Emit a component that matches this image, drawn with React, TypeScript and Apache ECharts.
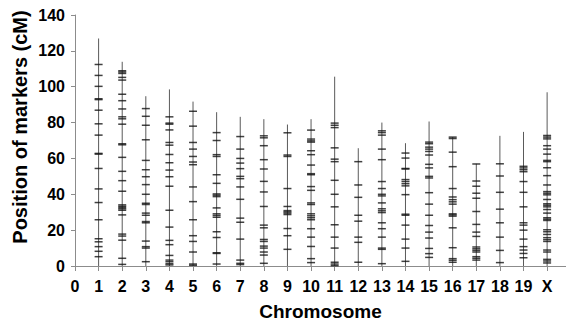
import React, { useEffect, useRef } from "react";
import * as echarts from "echarts";

// Chromosome labels (x positions 0..20)
const categories = ["0", "1", "2", "3", "4", "5", "6", "7", "8", "9", "10", "11", "12", "13", "14", "15", "16", "17", "18", "19", "X"];

// Length of each chromosome (cM), index = x position
const chromLengths = [0, 126.9, 113.9, 94.7, 98.5, 91.7, 85.8, 83.2, 81.9, 78.9, 81.9, 105.6, 65.7, 80.0, 68.5, 80.6, 71.9, 57.0, 72.6, 74.8, 96.9];

// Marker positions (cM) per chromosome
const chr1 = [112.4, 106.3, 100.2, 93.3, 92.8, 86.9, 79.3, 73.0, 62.8, 62.4, 54.4, 43.0, 35.4, 25.8, 15.2, 13.5, 10.8, 8.2, 5.2];
const chr2 = [108.9, 108.2, 107.4, 105.2, 103.7, 95.8, 92.2, 87.6, 83.2, 82.1, 79.1, 68.2, 67.6, 60.6, 52.8, 47.6, 41.7, 34.1, 33.3, 32.6, 31.9, 31.1, 28.5, 17.8, 16.7, 14.4, 4.3, 0.9];
const chr3 = [87.8, 83.5, 78.5, 70.4, 58.9, 53.7, 49.8, 45.4, 40.0, 35.0, 34.3, 29.5, 28.3, 24.8, 24.1, 13.9, 10.8, 10.0, 2.4];
const chr4 = [83.2, 79.7, 79.1, 75.9, 68.9, 67.4, 62.2, 57.6, 53.5, 49.8, 44.5, 31.1, 21.7, 14.3, 11.9, 5.9, 3.3, 2.4, 1.3, 0.6];
const chr5 = [86.3, 78.0, 68.9, 65.2, 61.1, 58.0, 56.5, 44.1, 35.9, 25.8, 16.9, 13.7, 7.8, 1.1, 0.4];
const chr6 = [74.4, 70.0, 62.1, 61.1, 50.9, 46.1, 40.2, 39.5, 38.7, 32.4, 29.1, 28.2, 27.2, 19.1, 15.9, 7.4, 7.0, 1.1];
const chr7 = [72.2, 65.2, 60.0, 57.4, 54.3, 50.0, 48.7, 44.1, 37.2, 26.7, 24.4, 15.0, 3.3, 1.5, 0.8];
const chr8 = [72.6, 71.5, 67.1, 59.3, 54.1, 47.2, 41.3, 33.2, 22.8, 21.3, 14.8, 13.7, 11.1, 10.0, 7.8, 6.1, 1.5];
const chr9 = [74.3, 61.9, 61.1, 43.2, 33.2, 30.9, 30.2, 29.5, 28.7, 20.9, 16.9, 9.3];
const chr10 = [75.8, 70.8, 69.8, 69.1, 64.3, 62.1, 56.3, 51.5, 50.9, 44.3, 42.2, 35.2, 34.3, 29.1, 28.0, 26.9, 25.8, 20.8, 16.1, 10.9, 4.1, 1.9];
const chr11 = [79.7, 78.5, 77.2, 65.9, 59.6, 58.2, 47.8, 40.0, 33.0, 23.0, 16.1, 10.0, 2.1, 1.1, 0.2];
const chr12 = [58.2, 45.2, 38.3, 28.3, 25.0, 16.1, 13.2, 2.1];
const chr13 = [75.4, 74.4, 73.0, 65.2, 59.3, 47.1, 43.2, 40.0, 39.1, 35.2, 31.9, 30.8, 29.8, 24.1, 20.8, 16.1, 10.0, 9.3, 1.3];
const chr14 = [63.0, 60.2, 54.4, 54.1, 48.2, 47.1, 45.9, 44.7, 39.8, 28.9, 28.3, 22.8, 15.0, 10.0, 2.6];
const chr15 = [69.1, 68.2, 66.3, 65.2, 63.9, 61.9, 56.7, 54.7, 50.0, 49.1, 40.9, 34.5, 28.3, 22.6, 18.9, 15.6, 9.8, 6.9, 4.8];
const chr16 = [71.9, 71.1, 63.5, 55.4, 43.2, 38.5, 37.0, 35.8, 34.5, 29.1, 28.5, 27.8, 21.3, 10.2, 4.1, 3.2, 2.1];
const chr17 = [56.9, 47.4, 44.5, 40.6, 37.8, 30.4, 23.2, 18.9, 16.5, 10.6, 9.6, 8.7, 7.8, 5.2, 4.3, 3.3];
const chr18 = [57.0, 50.2, 41.1, 31.7, 24.1, 16.1, 8.7, 1.9];
const chr19 = [55.6, 54.7, 53.7, 52.6, 47.1, 41.1, 33.0, 24.1, 22.8, 20.0, 15.0, 10.8, 8.9, 7.0, 4.6];
const chrX = [72.8, 71.9, 70.9, 67.1, 65.2, 62.4, 58.9, 58.2, 54.8, 50.4, 45.2, 41.5, 40.6, 39.7, 37.1, 34.7, 33.9, 33.0, 31.5, 29.5, 26.9, 26.1, 25.4, 20.2, 19.1, 17.6, 15.8, 14.7, 13.7, 8.9, 7.8, 3.7, 2.8, 1.7];

const markerSets: number[][] = [[], chr1, chr2, chr3, chr4, chr5, chr6, chr7, chr8, chr9, chr10, chr11, chr12, chr13, chr14, chr15, chr16, chr17, chr18, chr19, chrX];

// Y axis ticks
const yMin = 0;
const yMax = 140;
const yInterval = 20;

const FONT = "'Liberation Sans', Arial, Helvetica, sans-serif";

export default function App() {
  const ref = useRef<HTMLDivElement>(null);

  useEffect(() => {
    if (!ref.current) return;
    const chart = echarts.init(ref.current, undefined, { renderer: "svg" });

    const lineData = chromLengths.map((len, i) => [i, len]).filter((d) => d[1] > 0);
    const markerData: number[][] = [];
    markerSets.forEach((arr, i) => {
      arr.forEach((v) => markerData.push([i, v]));
    });

    chart.setOption({
      animation: false,
      backgroundColor: "#ffffff",
      grid: { left: 75, right: 0, top: 15, bottom: 59, containLabel: false },
      xAxis: {
        type: "value",
        min: 0,
        max: 20.8,
        interval: 1,
        splitLine: { show: false },
        axisLine: { show: true, lineStyle: { color: "#8c8c8c", width: 1 } },
        axisTick: { show: true, length: 5, inside: false, lineStyle: { color: "#8c8c8c", width: 1 } },
        axisLabel: {
          margin: 12,
          color: "#000",
          fontFamily: FONT,
          fontWeight: "bold",
          fontSize: 16,
          showMaxLabel: false,
          formatter: (v: number) => (Number.isInteger(v) && v >= 0 && v < categories.length ? categories[v] : ""),
        },
        name: "Chromosome",
        nameLocation: "middle",
        nameGap: 36,
        nameTextStyle: { color: "#000", fontFamily: FONT, fontWeight: "bold", fontSize: 19 },
      },
      yAxis: {
        type: "value",
        min: yMin,
        max: yMax,
        interval: yInterval,
        splitLine: { show: false },
        axisLine: { show: true, lineStyle: { color: "#8c8c8c", width: 1 } },
        axisTick: { show: true, length: 4, inside: false, lineStyle: { color: "#8c8c8c", width: 1 } },
        axisLabel: {
          margin: 10,
          color: "#000",
          fontFamily: FONT,
          fontWeight: "bold",
          fontSize: 16,
        },
      },
      graphic: [
        {
          type: "text",
          x: 20,
          y: 127,
          rotation: Math.PI / 2,
          style: {
            text: "Position of markers (cM)",
            fill: "#000",
            font: `bold 20px ${FONT}`,
            textAlign: "center",
            textVerticalAlign: "middle",
          },
        },
      ],
      series: [
        {
          type: "custom",
          data: lineData,
          z: 2,
          renderItem: (params: any, api: any) => {
            const x = api.value(0);
            const len = api.value(1);
            const p0 = api.coord([x, 0]);
            const p1 = api.coord([x, len]);
            return {
              type: "line",
              shape: { x1: p0[0], y1: p0[1], x2: p1[0], y2: p1[1] },
              style: { stroke: "#5a5a5a", lineWidth: 1 },
            };
          },
        },
        {
          type: "scatter",
          data: markerData,
          z: 3,
          symbol: "rect",
          symbolSize: [8, 1.5],
          itemStyle: { color: "#111" },
        },
      ],
    });

    return () => chart.dispose();
  }, []);

  return (
    <div
      ref={ref}
      style={{ position: "absolute", left: 0, top: 0, width: 566, height: 326, background: "#fff" }}
    />
  );
}
